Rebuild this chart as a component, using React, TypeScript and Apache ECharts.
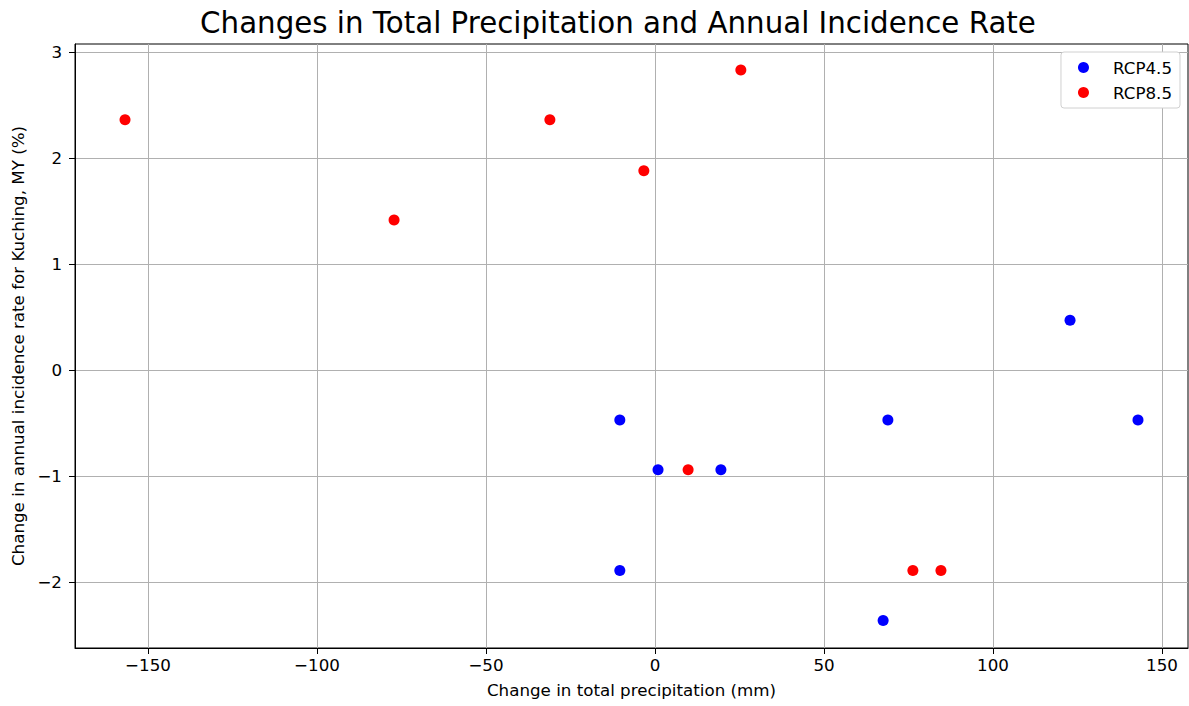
import React, { useEffect, useRef } from "react";
import * as echarts from "echarts";

// Change in total precipitation (mm) and change in annual incidence rate (%)
const rcp45Precip = [-10.4, 0.9, 19.5, -10.4, 68.9, 67.5, 122.8, 142.9];
const rcp45Incidence = [-0.47, -0.94, -0.94, -1.89, -0.47, -2.36, 0.47, -0.47];

const rcp85Precip = [-156.8, -77.2, -31.1, -3.3, 25.4, 9.8, 76.3, 84.6];
const rcp85Incidence = [2.36, 1.415, 2.36, 1.88, 2.83, -0.94, -1.89, -1.89];

const seriesNames = ["RCP4.5", "RCP8.5"];
const seriesColors = ["#0000ff", "#ff0000"];

const xTicks = [-150, -100, -50, 0, 50, 100, 150];
const yTicks = [-2, -1, 0, 1, 2, 3];

const FONT = "DejaVu Sans";
const LABEL_SIZE = 16.7;

const fmt = (v: number) => (v < 0 ? "\u2212" + Math.abs(v) : String(v));

export default function App() {
  const ref = useRef<HTMLDivElement>(null);

  useEffect(() => {
    if (!ref.current) return;
    const chart = echarts.init(ref.current, undefined, { renderer: "svg" });
    const pair = (xs: number[], ys: number[]) => xs.map((x, i) => [x, ys[i]]);

    const axisCommon = {
      type: "value",
      nameLocation: "middle",
      nameTextStyle: { fontFamily: FONT, fontSize: LABEL_SIZE, color: "#000" },
      axisLine: { show: true, onZero: false, lineStyle: { color: "#000", width: 1 } },
      splitLine: { show: true, lineStyle: { color: "#b0b0b0", width: 1 } },
    };

    chart.setOption({
      animation: false,
      backgroundColor: "#ffffff",
      textStyle: { fontFamily: FONT },
      title: {
        text: "Changes in Total Precipitation and Annual Incidence Rate",
        left: 613,
        textAlign: "center",
        top: 3,
        textStyle: { fontFamily: FONT, fontSize: 29.3, fontWeight: "normal", color: "#000" },
      },
      legend: {
        orient: "vertical",
        right: 9,
        top: 52,
        data: seriesNames,
        icon: "circle",
        itemWidth: 11,
        itemHeight: 11,
        itemGap: 8,
        padding: [7, 8, 7, 17],
        backgroundColor: "#ffffff",
        borderColor: "#d0d0d0",
        borderWidth: 1,
        borderRadius: 3,
        textStyle: {
          fontFamily: FONT,
          fontSize: LABEL_SIZE,
          color: "#000",
          padding: [0, 0, 0, 19],
        },
      },
      grid: {
        left: 75,
        right: 1,
        top: 44,
        height: 604,
        show: true,
        borderColor: "#000",
        borderWidth: 1,
        containLabel: false,
      },
      xAxis: {
        ...axisCommon,
        min: -171.6,
        max: 157.7,
        name: "Change in total precipitation (mm)",
        nameGap: 33,
        axisTick: {
          show: true,
          inside: false,
          length: 6,
          customValues: xTicks,
          lineStyle: { color: "#000" },
        },
        axisLabel: {
          fontFamily: FONT,
          fontSize: LABEL_SIZE,
          color: "#000",
          margin: 8,
          customValues: xTicks,
          formatter: (v: number) => fmt(v),
        },
      },
      yAxis: {
        ...axisCommon,
        min: -2.62,
        max: 3.075,
        name: "Change in annual incidence rate for Kuching, MY (%)",
        nameGap: 47,
        axisTick: {
          show: true,
          inside: false,
          length: 6,
          customValues: yTicks,
          lineStyle: { color: "#000" },
        },
        axisLabel: {
          fontFamily: FONT,
          fontSize: LABEL_SIZE,
          color: "#000",
          margin: 13,
          customValues: yTicks,
          formatter: (v: number) => fmt(v),
        },
      },
      series: [
        {
          name: seriesNames[0],
          type: "scatter",
          symbol: "circle",
          symbolSize: 11,
          itemStyle: { color: seriesColors[0], opacity: 1 },
          data: pair(rcp45Precip, rcp45Incidence),
        },
        {
          name: seriesNames[1],
          type: "scatter",
          symbol: "circle",
          symbolSize: 11,
          itemStyle: { color: seriesColors[1], opacity: 1 },
          data: pair(rcp85Precip, rcp85Incidence),
        },
      ],
    });

    return () => chart.dispose();
  }, []);

  return (
    <div
      ref={ref}
      style={{ position: "fixed", left: 0, top: 0, width: 1189, height: 706 }}
    />
  );
}
